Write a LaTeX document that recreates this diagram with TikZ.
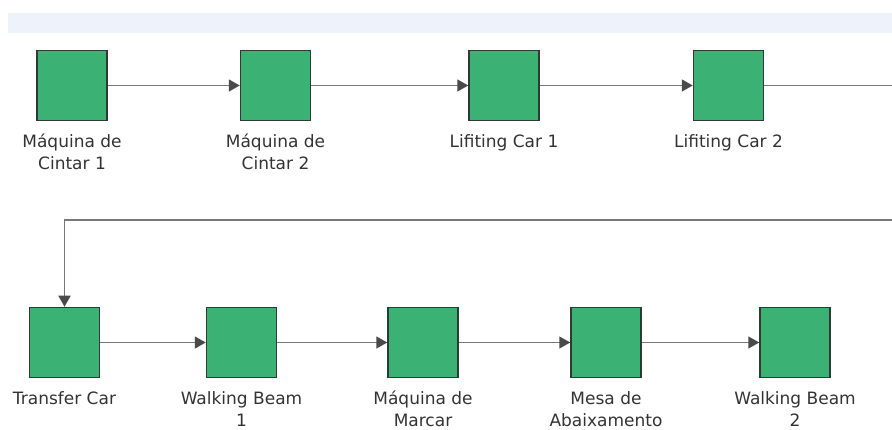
\documentclass[tikz,border=0pt]{standalone}
\usepackage{fontspec}
\setmainfont{DejaVu Sans}
\usetikzlibrary{arrows.meta}
\definecolor{boxgreen}{HTML}{3BB273}
\definecolor{boxedge}{HTML}{2E3A32}
\definecolor{linegray}{HTML}{787878}
\definecolor{tipgray}{HTML}{4A4A4A}
\definecolor{bandblue}{HTML}{EEF2FA}
\definecolor{textgray}{HTML}{333333}
\tikzset{
  stationbox/.style={draw=boxedge, line width=1.5pt, fill=boxgreen, minimum size=70pt, inner sep=0pt},
  lbl/.style={anchor=north, align=center, inner sep=0pt, text=textgray, font=\fontsize{17}{22.5}\selectfont, yshift=-10pt},
  flow/.style={draw=linegray, line width=1.5pt, -{Triangle[length=11pt,width=12pt,fill=tipgray,color=tipgray]}}
}
\begin{document}
\begin{tikzpicture}[x=1pt,y=-1pt]
\useasboundingbox (0,0) rectangle (892,430);
\fill[bandblue] (8,13) rectangle (892,33);
% top row
\node[stationbox] (b1) at (72,85.5) {};
\node[stationbox] (b2) at (275.5,85.5) {};
\node[stationbox] (b3) at (504,85.5) {};
\node[stationbox] (b4) at (728.5,85.5) {};
\node[lbl] (l1) at (b1.south) {\strut Máquina de\\Cintar 1};
\node[lbl] (l2) at (b2.south) {\strut Máquina de\\Cintar 2};
\node[lbl] (l3) at (b3.south) {\strut Lifiting Car 1};
\node[lbl] (l4) at (b4.south) {\strut Lifiting Car 2};
% bottom row
\node[stationbox] (c1) at (64.5,342.5) {};
\node[stationbox] (c2) at (241.5,342.5) {};
\node[stationbox] (c3) at (423,342.5) {};
\node[stationbox] (c4) at (606,342.5) {};
\node[stationbox] (c5) at (795,342.5) {};
\node[lbl] (m1) at (c1.south) {\strut Transfer Car};
\node[lbl] (m2) at (c2.south) {\strut Walking Beam\\1};
\node[lbl] (m3) at (c3.south) {\strut Máquina de\\Marcar};
\node[lbl] (m4) at (c4.south) {\strut Mesa de\\Abaixamento};
\node[lbl] (m5) at (c5.south) {\strut Walking Beam\\2};
% connectors
\draw[flow] (b1.east) -- (b2.west);
\draw[flow] (b2.east) -- (b3.west);
\draw[flow] (b3.east) -- (b4.west);
\coordinate (r1) at (902,85.5);
\coordinate (r2) at (902,220);
\coordinate (r3) at (64.5,220);
\draw[flow] (b4.east) -- (r1) -- (r2) -- (r3) -- (c1.north);
\draw[flow] (c1.east) -- (c2.west);
\draw[flow] (c2.east) -- (c3.west);
\draw[flow] (c3.east) -- (c4.west);
\draw[flow] (c4.east) -- (c5.west);
\end{tikzpicture}
\end{document}
